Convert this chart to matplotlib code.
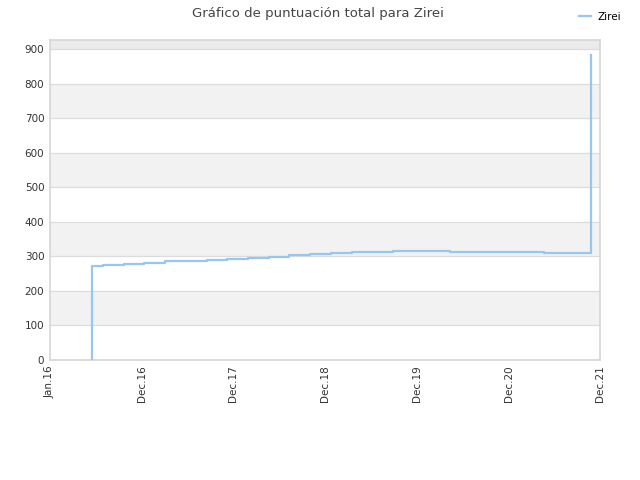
import pandas as pd
import matplotlib
matplotlib.use("Agg")
from matplotlib import pyplot as plt

# step data for Zirei
dates = ["2016-06-15", "2016-06-15", "2016-06-15", "2016-06-15", "2016-08-01",
         "2016-10-22", "2017-01-10", "2017-04-04", "2017-06-26", "2017-09-17",
         "2017-12-07", "2018-03-01", "2018-05-23", "2018-08-10", "2018-11-02",
         "2019-01-24", "2019-04-17", "2019-07-07", "2019-09-28", "2020-05-12",
         "2021-05-21", "2021-11-25"]
scores = [0, 14, 49, 273, 275.5,
          278.7, 281.6, 285.5, 287.4, 290.3,
          292, 296, 299, 303, 305.7,
          308.6, 311.5, 313.5, 316.4, 313.5,
          310, 882]

tick_dates = ["2016-01-01", "2016-12-31", "2017-12-31", "2018-12-31",
              "2019-12-31", "2020-12-31", "2021-12-31"]
tick_labels = ["Jan.16", "Dec.16", "Dec.17", "Dec.18", "Dec.19", "Dec.20", "Dec.21"]
y_ticks = [0, 100, 200, 300, 400, 500, 600, 700, 800, 900]

x = pd.to_datetime(dates)

fig = plt.figure(figsize=(6.4, 4.8), dpi=100)
ax = fig.add_axes([0.078, 0.25, 0.86, 0.667])

ymax = 927
# alternating bands
for lo in [100, 300, 500, 700]:
    ax.axhspan(lo, lo + 100, color="#f2f2f2", zorder=0, lw=0)
ax.axhspan(900, ymax, color="#ebebeb", zorder=0, lw=0)
for yv in y_ticks[1:]:
    ax.axhline(yv, color="#dcdcdc", lw=0.9, zorder=1)

ax.step(x, scores, where="post", color="#98c6f3", lw=1.6, zorder=3, label="Zirei")

ax.set_xlim(pd.Timestamp("2016-01-01"), pd.Timestamp("2021-12-31"))
ax.set_ylim(0, ymax)
ax.set_yticks(y_ticks)
ax.set_xticks(pd.to_datetime(tick_dates))
ax.set_xticklabels(tick_labels, rotation=90)
ax.tick_params(axis="both", length=0, labelsize=7.5, colors="#333333", pad=4)
for s in ax.spines.values():
    s.set_color("#d6d6d6")
    s.set_linewidth(1.2)

fig.text(0.497, 0.972, "Gráfico de puntuación total para Zirei", ha="center", va="center",
         fontsize=9.5, color="#444444")
fig.legend(loc="upper right", bbox_to_anchor=(0.985, 0.995), frameon=False, fontsize=7.5,
           handlelength=1.2, handletextpad=0.6)

plt.savefig("out.png", dpi=100)
